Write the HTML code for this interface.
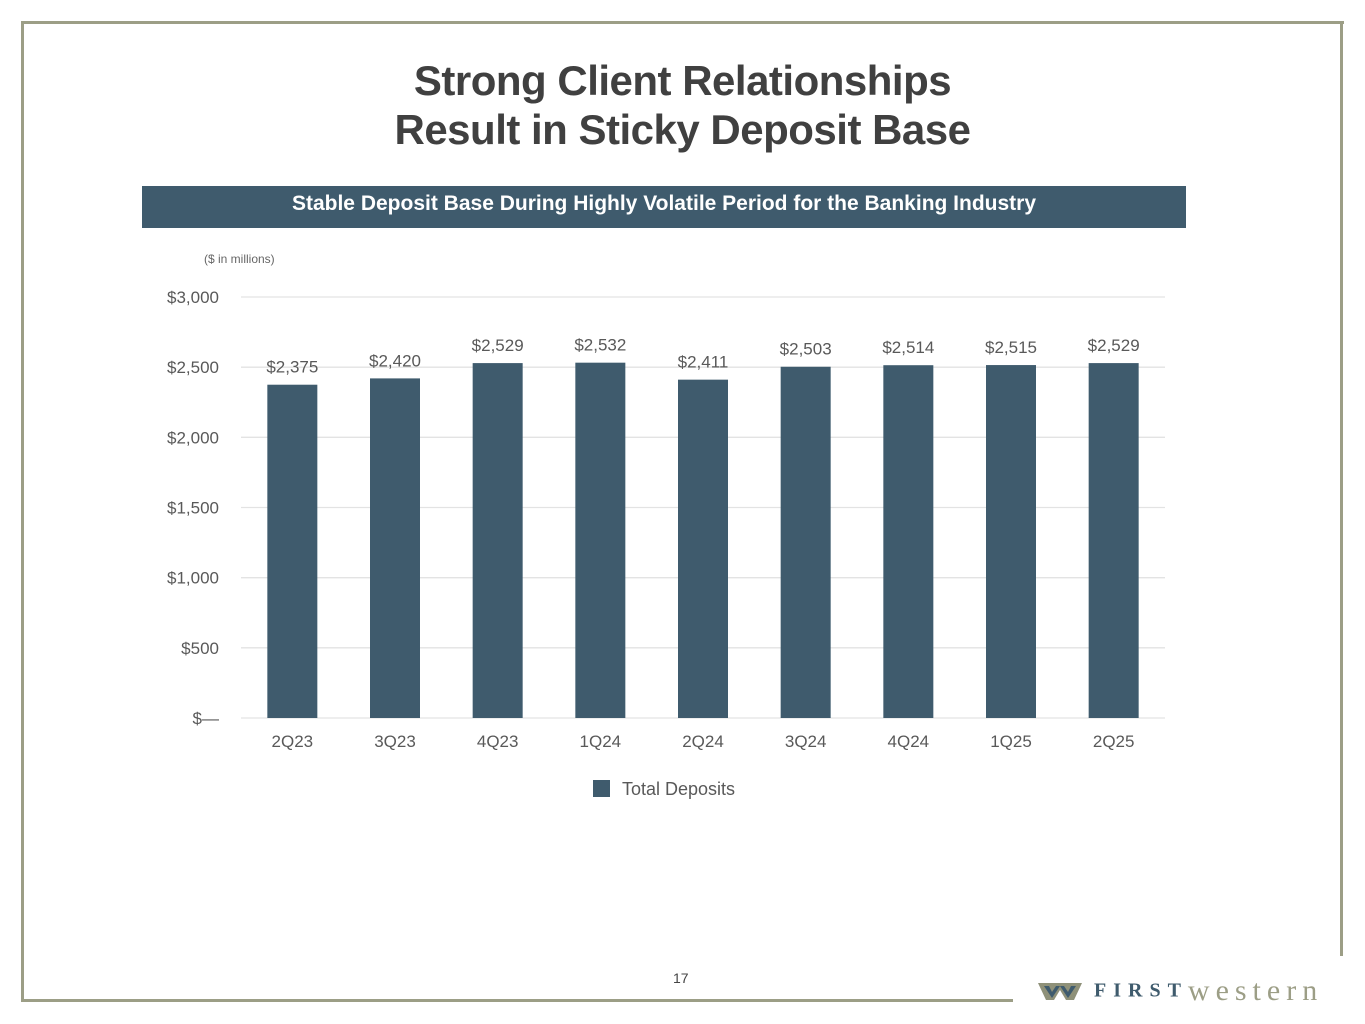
<!DOCTYPE html>
<html><head><meta charset="utf-8"><style>
body{margin:0;width:1365px;height:1024px;background:#fff;position:relative;overflow:hidden;font-family:"Liberation Sans",sans-serif}
.ln{position:absolute;background:#9c9e86}
.t{position:absolute;left:0;width:1365px;text-align:center;font-weight:bold;color:#404040;font-size:42px;line-height:49px;letter-spacing:-0.5px}
</style></head><body>
<div class="ln" style="left:21px;top:21px;width:1323px;height:3px"></div>
<div class="ln" style="left:21px;top:21px;width:3px;height:981px"></div>
<div class="ln" style="left:1340px;top:21px;width:3px;height:935px"></div>
<div class="ln" style="left:21px;top:999px;width:992px;height:3px"></div>
<div class="t" style="top:56px">Strong Client Relationships<br>Result in Sticky Deposit Base</div>
<div style="position:absolute;left:142px;top:186px;width:1044px;height:42px;background:#3f5b6d;color:#fff;font-weight:bold;font-size:21px;line-height:36px;text-align:center">Stable Deposit Base During Highly Volatile Period for the Banking Industry</div>
<div style="position:absolute;left:204px;top:252px;font-size:12px;color:#666">($ in millions)</div>
<svg id="chart" width="1365" height="1024" style="position:absolute;left:0;top:0"></svg>
<div style="position:absolute;left:673px;top:970px;font-size:14px;color:#444">17</div>
<div style="position:absolute;left:1038px;top:974px;white-space:nowrap">
<svg width="44" height="22" style="vertical-align:middle"><polygon points="0,3 44,3 36,20 28,20 22,10 16,20 8,20" fill="#8f9179"/><polygon points="6,6 14,18 22,6 30,18 38,6 33,6 30,12 26,6 18,6 14,12 11,6" fill="#3f5b6d"/></svg><span style="font-family:'Liberation Serif',serif;font-weight:bold;font-size:20px;color:#3f5b6d;letter-spacing:7px;vertical-align:middle"> FIRST</span><span style="font-family:'Liberation Serif',serif;font-size:30px;color:#9c9e86;letter-spacing:6px;vertical-align:middle">western</span></div>
<script>
const categories=["2Q23","3Q23","4Q23","1Q24","2Q24","3Q24","4Q24","1Q25","2Q25"];
const values=[2375,2420,2529,2532,2411,2503,2514,2515,2529];
const labels=["$2,375","$2,420","$2,529","$2,532","$2,411","$2,503","$2,514","$2,515","$2,529"];
const ticks=[0,500,1000,1500,2000,2500,3000];
const tickLabels=["$—","$500","$1,000","$1,500","$2,000","$2,500","$3,000"];
const svg=document.getElementById('chart');const NS='http://www.w3.org/2000/svg';
const x0=241,x1=1165,y0=718,y1=297;
const y=v=>y0-(v/3000)*(y0-y1);
const step=(x1-x0)/categories.length;
const xc=i=>x0+step*(i+0.5);
function mk(t,a,txt){const e=document.createElementNS(NS,t);for(const k in a)e.setAttribute(k,a[k]);if(txt!==undefined)e.textContent=txt;svg.appendChild(e);return e;}
ticks.forEach((t,i)=>{
const g=mk('line',{x1:x0,x2:x1,y1:y(t),y2:y(t),stroke:'#e3e3e3','stroke-width':1.3});


const l=mk('text',{x:219,y:y(t)+6,'text-anchor':'end','font-size':17,fill:'#595959','font-family':'Liberation Sans, sans-serif'},tickLabels[i]);


});
categories.forEach((c,i)=>{
const b=mk('rect',{x:xc(i)-25,y:y(values[i]),width:50,height:y0-y(values[i]),fill:'#3f5b6d'});


const v=mk('text',{x:xc(i),y:y(values[i])-12,'text-anchor':'middle','font-size':17,fill:'#595959','font-family':'Liberation Sans, sans-serif'},labels[i]);


const xl=mk('text',{x:xc(i),y:747,'text-anchor':'middle','font-size':17,fill:'#595959','font-family':'Liberation Sans, sans-serif'},c);


});
const lg=mk('rect',{x:593,y:780,width:17,height:17,fill:'#3f5b6d'});


const lt=mk('text',{x:622,y:795,'font-size':18,fill:'#595959','font-family':'Liberation Sans, sans-serif'},'Total Deposits');


</script>
</body></html>
